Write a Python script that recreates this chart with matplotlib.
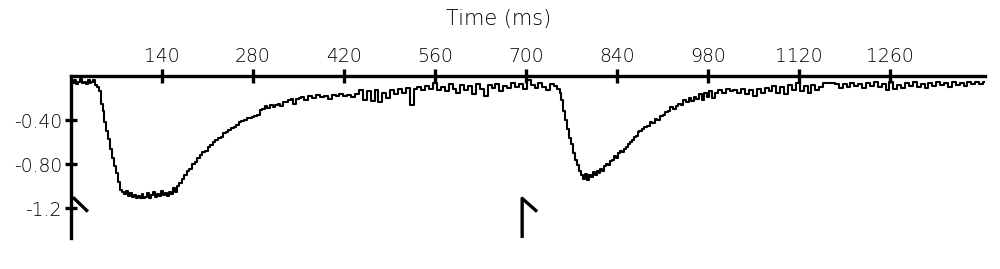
import matplotlib
matplotlib.use("Agg")
import matplotlib.pyplot as plt

# ---- data ----
time_ms = [0, 3, 6, 9, 12, 15, 18, 21, 24, 27, 30, 33, 36, 39, 42,
           45, 48, 50, 53, 56, 59, 62, 65, 68, 71, 74, 77, 80,
           83, 86, 89, 92, 95, 98, 101, 104, 107, 110, 113, 116, 119, 122, 125, 128,
           131, 134, 137, 140, 143, 146, 149, 152, 155, 158, 161, 164,
           168, 172, 176, 180, 184, 188, 192, 196, 200, 204, 208, 212, 216, 220,
           224, 228, 232, 236, 240, 244, 248, 252, 256, 260, 264, 268, 272, 276,
           280, 284, 288, 292, 296, 300, 304, 308, 312, 316, 320, 324, 328, 332,
           336, 340, 344, 348, 352,
           356, 362, 368, 374, 380, 386, 392, 398, 404, 410, 416, 422, 428, 434,
           440, 446, 452, 458, 464, 470, 476, 482, 488, 494, 500, 506, 512, 518,
           524, 530, 536, 542, 548, 554, 560, 566, 572, 578, 584, 590, 596, 602,
           608, 614, 620, 626, 632, 638, 644, 650, 656, 662, 668, 674, 680, 686,
           692, 698, 704, 710, 716, 722, 728, 734, 740, 746, 750,
           753, 756, 759, 762, 765, 768, 771, 774, 777, 780, 783, 786, 789, 792,
           795, 798, 801, 804, 807, 810, 813, 816, 819, 822, 825, 828, 831, 834,
           837, 840, 843, 846, 849, 852, 855, 858, 861, 864, 867, 870, 873, 876,
           880, 884, 888, 892, 896, 900, 904, 908, 912, 916, 920, 924, 928, 932,
           936, 940, 944, 948, 952, 956, 960, 964, 968, 972, 976, 980, 984, 988, 992,
           998, 1004, 1010, 1016, 1022, 1028, 1034, 1040, 1046, 1052, 1058, 1064,
           1070, 1076, 1082, 1088, 1094, 1100, 1106, 1112, 1118, 1124, 1130, 1136,
           1142, 1148, 1154, 1160, 1166, 1172, 1178, 1184, 1190, 1196, 1202, 1208,
           1214, 1220, 1226, 1232, 1238, 1244, 1250, 1256, 1262, 1268, 1274, 1280,
           1286, 1292, 1298, 1304, 1310, 1316, 1322, 1328, 1334, 1340, 1346, 1352,
           1358, 1364, 1370, 1376, 1382, 1388, 1394, 1400, 1405]

current = [-0.03, -0.06, -0.04, -0.07, -0.05, -0.03, -0.06, -0.05, -0.07, -0.04, -0.06, -0.05, -0.04, -0.08, -0.10,
           -0.14, -0.25, -0.32, -0.42, -0.50, -0.57, -0.66, -0.74, -0.82, -0.88, -0.96, -1.03, -1.05,
           -1.07, -1.04, -1.09, -1.06, -1.10, -1.08, -1.11, -1.09, -1.11, -1.07, -1.11, -1.10, -1.06, -1.11, -1.08, -1.05,
           -1.10, -1.07, -1.09, -1.04, -1.08, -1.06, -1.09, -1.05, -1.07, -1.02, -1.05, -1.00,
           -0.97, -0.93, -0.90, -0.86, -0.84, -0.80, -0.78, -0.74, -0.72, -0.69, -0.68, -0.64, -0.63, -0.60,
           -0.58, -0.56, -0.55, -0.52, -0.51, -0.49, -0.47, -0.46, -0.44, -0.42, -0.41, -0.40, -0.38, -0.38,
           -0.37, -0.36, -0.35, -0.31, -0.30, -0.27, -0.29, -0.26, -0.28, -0.26, -0.25, -0.27, -0.24, -0.24,
           -0.22, -0.21, -0.25, -0.21, -0.20,
           -0.19, -0.22, -0.18, -0.20, -0.17, -0.19, -0.18, -0.21, -0.17, -0.18, -0.16, -0.18, -0.17, -0.19,
           -0.16, -0.13, -0.22, -0.14, -0.23, -0.13, -0.24, -0.15, -0.20, -0.13, -0.16, -0.12, -0.15, -0.11,
           -0.26, -0.12, -0.10, -0.13, -0.09, -0.12, -0.06, -0.13, -0.10, -0.14, -0.07, -0.12, -0.15, -0.08,
           -0.13, -0.09, -0.16, -0.07, -0.12, -0.18, -0.08, -0.11, -0.07, -0.14, -0.09, -0.11, -0.06, -0.10,
           -0.07, -0.12, -0.04, -0.08, -0.11, -0.06, -0.10, -0.13, -0.07, -0.09, -0.12,
           -0.15, -0.22, -0.32, -0.40, -0.48, -0.56, -0.62, -0.70, -0.76, -0.81, -0.86, -0.90, -0.93, -0.89,
           -0.94, -0.90, -0.92, -0.87, -0.90, -0.86, -0.88, -0.84, -0.86, -0.82, -0.80, -0.81, -0.77, -0.76,
           -0.73, -0.74, -0.70, -0.68, -0.69, -0.66, -0.64, -0.62, -0.60, -0.58, -0.55, -0.54, -0.51, -0.50,
           -0.48, -0.46, -0.45, -0.42, -0.43, -0.39, -0.40, -0.36, -0.35, -0.33, -0.32, -0.28, -0.30, -0.27,
           -0.25, -0.26, -0.22, -0.24, -0.20, -0.23, -0.19, -0.21, -0.16, -0.22, -0.15, -0.19, -0.14, -0.20, -0.15,
           -0.13, -0.15, -0.12, -0.14, -0.13, -0.15, -0.12, -0.16, -0.13, -0.18, -0.12, -0.15,
           -0.11, -0.14, -0.09, -0.15, -0.10, -0.16, -0.08, -0.13, -0.06, -0.14, -0.09, -0.15,
           -0.08, -0.13, -0.10, -0.06, -0.06, -0.06, -0.07, -0.11, -0.07, -0.10, -0.06, -0.09,
           -0.07, -0.11, -0.06, -0.09, -0.05, -0.10, -0.07, -0.13, -0.05, -0.12, -0.08, -0.11,
           -0.06, -0.09, -0.05, -0.10, -0.07, -0.11, -0.06, -0.09, -0.05, -0.08, -0.06, -0.10,
           -0.05, -0.08, -0.06, -0.09, -0.05, -0.07, -0.05, -0.07, -0.05]

x_ticks = [140, 280, 420, 560, 700, 840, 980, 1120, 1260]
y_ticks = [-0.40, -0.80, -1.2]
y_tick_labels = ["-0.40", "-0.80", "-1.2"]

# stimulus markers
stim1_t = [3, 26]
stim1_v = [-1.10, -1.23]
stim2_t = [694, 694, 717]
stim2_v = [-1.49, -1.11, -1.23]

x_label = "Time (ms)"

# ---- figure ----
plt.rcParams["font.family"] = ["DejaVu Sans"]
fig = plt.figure(figsize=(10, 2.69), dpi=100)
ax = fig.add_axes([0.071, 0.115, 0.914, 0.6025])

ax.plot(time_ms, current, color="black", lw=1.5, drawstyle="steps-mid")
ax.plot(stim1_t, stim1_v, color="black", lw=2.4, solid_capstyle="butt")
ax.plot(stim2_t, stim2_v, color="black", lw=2.4, solid_capstyle="butt")

ax.set_xlim(0, 1406)
ax.set_ylim(-1.47, 0)

for s in ["right", "bottom"]:
    ax.spines[s].set_visible(False)
for s in ["top", "left"]:
    ax.spines[s].set_linewidth(2.4)
    ax.spines[s].set_color("black")

ax.xaxis.tick_top()
ax.set_xticks(x_ticks)
ax.set_xticklabels([str(v) for v in x_ticks], fontweight="light")
ax.set_yticks(y_ticks)
ax.set_yticklabels(y_tick_labels, fontweight="light")
ax.tick_params(axis="x", direction="inout", length=10, width=2.4, labelsize=13.5, pad=2, colors="black")
ax.tick_params(axis="y", direction="inout", length=9, width=2.4, labelsize=13.5, pad=2, colors="black")

fig.text(0.499, 0.93, x_label, ha="center", va="center", fontsize=15, fontweight="light")

fig.savefig("out.png", dpi=100, facecolor="white")
